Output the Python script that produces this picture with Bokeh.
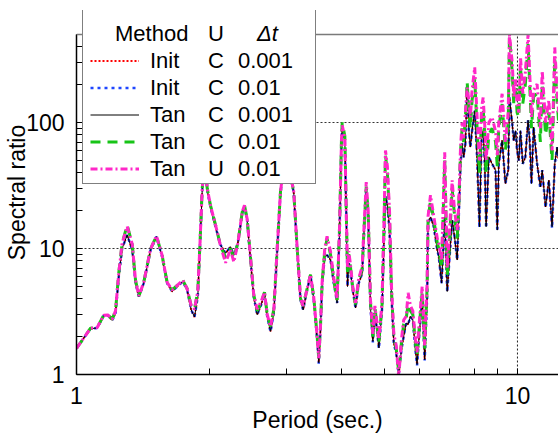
from bokeh.plotting import figure
from bokeh.models import (FixedTicker, PrintfTickFormatter, Legend, LegendItem,
                          Span, Range1d)
from bokeh.embed import file_html
from bokeh.resources import INLINE

FONT = "Liberation Sans"

# ---------------- data ----------------
period = [
    1.000, 1.039, 1.076, 1.114, 1.153, 1.178, 1.205, 1.226, 1.247, 1.269,
    1.303, 1.338, 1.361, 1.385, 1.421, 1.472, 1.518, 1.564, 1.605, 1.648,
    1.692, 1.742, 1.782, 1.820, 1.852, 1.884, 1.904, 1.928, 1.955, 1.979,
    2.013, 2.066, 2.121, 2.178, 2.234, 2.274, 2.322, 2.376, 2.404, 2.438,
    2.481, 2.523, 2.569, 2.623, 2.669, 2.707, 2.754, 2.802, 2.852, 2.901,
    2.950, 3.040, 3.110, 3.166, 3.221, 3.266, 3.335, 3.394, 3.452, 3.514,
    3.543, 3.575, 3.607, 3.656, 3.700, 3.767, 3.833, 3.900, 3.950, 3.990,
    4.005, 4.060, 4.090, 4.117, 4.145, 4.180, 4.230, 4.293, 4.366, 4.446,
    4.482, 4.540, 4.587, 4.640, 4.700, 4.750, 4.800, 4.850, 4.930, 4.976,
    5.020, 5.070, 5.127, 5.180, 5.243, 5.310, 5.380, 5.457, 5.520, 5.594,
    5.650, 5.720, 5.790, 5.870, 5.920, 6.000, 6.080, 6.160, 6.240, 6.270,
    6.350, 6.460, 6.580, 6.630, 6.730, 6.840, 6.930, 7.000, 7.110, 7.200,
    7.300, 7.360, 7.430, 7.490, 7.550, 7.620, 7.690, 7.760, 7.820, 7.890,
    8.000, 8.100, 8.200, 8.290, 8.360, 8.430, 8.490, 8.610, 8.760, 8.920,
    9.000, 9.070, 9.230, 9.390, 9.530, 9.590, 9.730, 9.810, 9.900, 9.980,
    10.07, 10.16, 10.28, 10.42, 10.57, 10.66, 10.76, 10.88, 11.08, 11.27,
    11.38, 11.58, 11.78, 11.98, 12.15, 12.30, 12.40,
]

tan_c_0001 = [
    1.61, 1.95, 2.31, 2.34, 2.93, 2.94, 2.69, 3.07, 5.98, 10.0,
    12.8, 9.7, 5.31, 4.16, 5.31, 9.7, 12.4, 8.6, 5.31, 4.56,
    4.99, 5.46, 4.7, 3.26, 2.86, 4.16, 9.7, 29, 48, 29,
    21.4, 14.9, 10.7, 9.16, 10.33, 8.88, 11.0, 19.0, 21.7, 16.8,
    8.11, 4.16, 2.98, 3.57, 4.42, 2.89, 2.20, 3.07, 9.7, 27.5,
    45, 42, 27.5, 9.7, 3.92, 3.26, 4.7, 6.17, 3.92, 1.89,
    1.24, 2.27, 5.31, 8.6, 8.9, 8.11, 5.31, 3.69, 14.0, 72,
    90, 72, 19, 4.99, 7.64, 6.76, 4.7, 3.37, 5.31, 6.37,
    12.4, 29, 17.8, 3.47, 1.83, 3.07, 2.27, 1.63, 3.26, 10.3,
    26, 22, 14.0, 4.16, 1.78, 1.48, 1.0, 1.58, 2.01, 2.56,
    2.5, 2.89, 2.72, 1.58, 1.2, 2.27, 3.92, 1.31, 4.16, 15.8,
    17.8, 14.9, 9.7, 8.6, 5.31, 17.8, 4.56, 7.64, 16.8, 12.4,
    8.1, 17.8, 47, 68, 53, 68, 202, 86, 63.8, 86,
    124, 53, 14.9, 72, 86, 47, 14.9, 53, 47, 41.8,
    14, 47, 72, 32.8, 41.8, 158, 97.6, 72, 86, 60,
    50, 86, 47, 53, 104, 72, 32.8, 91.7, 47, 30.8,
    41.8, 21.4, 34.8, 14.9, 47, 63.8, 50,
]

init_c_0001 = [
    1.61, 1.95, 2.31, 2.34, 2.93, 2.94, 2.69, 3.07, 5.98, 10.0,
    12.8, 9.7, 5.31, 4.16, 5.31, 9.7, 12.4, 8.6, 5.31, 4.56,
    4.99, 5.46, 4.7, 3.26, 2.86, 4.16, 9.7, 29, 48, 29,
    21.4, 14.9, 10.7, 9.16, 10.33, 8.88, 11.0, 19.0, 21.7, 16.8,
    8.11, 4.16, 2.98, 3.57, 4.42, 2.89, 2.20, 3.07, 9.7, 27.5,
    45, 42, 27.5, 9.7, 3.92, 3.26, 4.7, 6.17, 3.92, 1.89,
    1.24, 2.27, 5.31, 8.6, 8.9, 8.11, 5.31, 3.69, 14.0, 72,
    90, 72, 19, 4.99, 7.64, 6.76, 4.7, 3.37, 5.31, 6.37,
    12.4, 29, 17.8, 3.47, 1.83, 3.07, 2.27, 1.63, 3.26, 10.3,
    26, 22, 14.0, 4.16, 1.78, 1.48, 1.0, 1.58, 2.01, 2.56,
    2.5, 2.89, 2.72, 1.58, 1.2, 2.27, 3.92, 1.31, 4.16, 15.8,
    17.8, 14.9, 9.7, 8.6, 5.31, 17.8, 4.56, 7.64, 16.8, 12.4,
    8.1, 17.8, 47, 68, 53, 68, 202, 86, 63.8, 86,
    124, 53, 14.9, 72, 86, 47, 14.9, 53, 47, 41.8,
    14, 47, 72, 32.8, 41.8, 158, 97.6, 72, 86, 60,
    50, 86, 47, 53, 104, 72, 32.8, 91.7, 47, 30.8,
    41.8, 21.4, 34.8, 14.9, 47, 63.8, 50,
]

init_c_001 = [
    1.61, 1.95, 2.31, 2.34, 2.93, 2.94, 2.69, 3.07, 5.98, 10.0,
    12.8, 9.7, 5.31, 4.16, 5.31, 9.7, 12.4, 8.6, 5.31, 4.56,
    4.99, 5.46, 4.7, 3.26, 2.86, 4.16, 9.7, 29, 48, 29,
    21.4, 14.9, 10.7, 9.16, 10.33, 8.88, 11.0, 19.0, 21.7, 16.8,
    8.11, 4.16, 2.98, 3.57, 4.42, 2.89, 2.18, 3.07, 9.7, 27.5,
    45, 42, 27.5, 9.7, 3.92, 3.26, 4.7, 6.17, 3.92, 1.89,
    1.22, 2.27, 5.31, 8.6, 8.9, 8.11, 5.31, 3.69, 14.0, 72,
    90, 72, 19, 4.99, 7.64, 6.76, 4.7, 3.37, 5.31, 6.37,
    12.4, 29, 17.8, 3.47, 1.80, 3.07, 2.27, 1.60, 3.26, 10.3,
    26, 22, 14.0, 4.16, 1.76, 1.46, 1.0, 1.58, 2.01, 2.56,
    2.5, 2.89, 2.72, 1.56, 1.18, 2.27, 3.92, 1.29, 4.16, 15.8,
    17.8, 14.9, 9.7, 8.6, 5.31, 17.8, 4.5, 7.64, 16.8, 12.4,
    8.1, 17.8, 47, 68, 53, 68, 202, 86, 63.8, 86,
    124, 53, 14.5, 72, 86, 47, 14.5, 53, 47, 41.8,
    13.6, 47, 72, 32.8, 41.8, 158, 97.6, 72, 86, 60,
    50, 86, 47, 53, 104, 72, 32.0, 91.7, 47, 30.0,
    41.8, 21.0, 34.8, 14.5, 47, 63.8, 50,
]

tan_c_001 = [
    1.61, 1.95, 2.33, 2.36, 2.95, 2.97, 2.75, 3.2, 6.4, 11.0,
    15.3, 10.8, 5.6, 4.2, 5.4, 9.9, 12.6, 8.8, 5.4, 4.7,
    5.1, 5.6, 4.8, 3.5, 3.3, 4.6, 10.2, 30, 50, 30,
    22, 15.5, 10.5, 8.5, 10.0, 8.3, 11.0, 19.5, 22.0, 17.2,
    8.5, 4.3, 3.2, 3.7, 4.5, 3.0, 2.4, 3.3, 10.0, 28,
    46, 43, 28, 10.0, 4.0, 3.5, 4.8, 6.2, 4.1, 2.0,
    1.35, 2.4, 5.5, 9.5, 12.0, 9.0, 5.6, 3.9, 15, 75,
    100, 78, 20, 6.5, 9.0, 7.2, 4.9, 3.6, 5.6, 7.0,
    13, 31, 19, 3.8, 2.0, 3.4, 2.5, 1.8, 3.6, 13,
    55, 40, 18, 4.6, 2.0, 1.6, 1.05, 1.8, 2.5, 2.8,
    3.6, 3.2, 3.0, 1.8, 1.4, 2.6, 4.5, 1.6, 5.0, 17,
    24, 17, 11, 10, 7, 50, 6, 10, 30, 18,
    12, 22, 60, 90, 70, 110, 210, 120, 90, 150,
    220, 90, 40, 110, 130, 80, 40, 80, 90, 70,
    45, 90, 140, 60, 100, 480, 250, 140, 200, 120,
    110, 280, 140, 200, 420, 200, 90, 160, 170, 70,
    200, 80, 120, 50, 320, 150, 100,
]

tan_u_001 = [
    1.61, 1.95, 2.33, 2.36, 2.95, 2.97, 2.75, 3.2, 6.4, 11.0,
    15.0, 10.8, 5.6, 4.2, 5.4, 9.9, 12.6, 8.8, 5.4, 4.7,
    5.1, 5.6, 4.8, 3.5, 3.3, 4.6, 10.2, 30, 50, 30,
    22, 15.5, 10.5, 7.7, 9.8, 7.8, 11.0, 19.5, 22.0, 17.2,
    8.5, 4.3, 3.3, 3.8, 4.5, 3.0, 2.4, 3.3, 10.0, 28,
    46, 43, 28, 10.0, 4.0, 3.5, 4.8, 6.2, 4.1, 2.0,
    1.35, 2.4, 5.5, 10.0, 12.5, 9.5, 5.8, 4.0, 15, 74,
    95, 76, 20, 7.0, 9.5, 7.5, 5.0, 3.7, 5.8, 7.2,
    13.5, 33.7, 20, 4.0, 2.1, 3.5, 2.6, 1.9, 3.8, 14,
    60, 45, 20, 5.0, 2.1, 1.7, 0.95, 1.9, 2.7, 2.9,
    4.45, 3.5, 3.2, 1.9, 1.5, 2.8, 5.0, 1.7, 5.5, 18,
    26.5, 18, 12, 11, 8, 58, 7, 12, 34.8, 20,
    14, 22, 65, 100, 75, 120, 190, 150, 110, 180,
    274, 110, 50, 130, 158, 95, 50, 100, 110, 85,
    55, 100, 169, 70, 120, 500, 300, 160, 220, 140,
    120, 330, 170, 250, 500, 250, 110, 180, 202, 90,
    257, 100, 150, 60, 394, 180, 120,
]

series_methods = ["Init", "Init", "Tan", "Tan", "Tan"]
series_u = ["C", "C", "C", "C", "U"]
series_dt = ["0.001", "0.01", "0.001", "0.01", "0.01"]
header_texts = ["Method", "U", "\u0394t"]

x_major_ticks = [1, 10]
x_minor_ticks = [2, 3, 4, 5, 6, 7, 8, 9]
y_major_ticks = [1, 10, 100]
y_minor_ticks = [2, 3, 4, 5, 6, 7, 8, 9, 20, 30, 40, 50, 60, 70, 80, 90,
                 200, 300, 400, 500]
x_limits = (1, 12.39)
y_limits = (1, 500)      # axis extent
y_view_top = 774         # visible headroom above the axis (legend sits there)

# ---------------- figure ----------------
p = figure(width=558, height=435, x_axis_type="log", y_axis_type="log",
           x_range=Range1d(*x_limits), y_range=Range1d(y_limits[0], y_view_top),
           output_backend="svg", toolbar_location=None,
           min_border_left=76, min_border_right=0, min_border_top=10,
           min_border_bottom=60)
p.outline_line_color = None
p.background_fill_color = "white"
p.border_fill_color = "white"

p.xaxis.ticker = FixedTicker(ticks=x_major_ticks, minor_ticks=x_minor_ticks)
p.yaxis.ticker = FixedTicker(ticks=y_major_ticks, minor_ticks=y_minor_ticks)
p.yaxis.bounds = y_limits
p.xaxis.formatter = PrintfTickFormatter(format="%d")
p.yaxis.formatter = PrintfTickFormatter(format="%d")
p.xaxis.axis_label = "Period (sec.)"
p.yaxis.axis_label = "Spectral ratio"

for ax in (p.xaxis[0], p.yaxis[0]):
    ax.axis_line_color = "black"
    ax.axis_line_width = 1.5
    ax.major_tick_in = 6
    ax.major_tick_out = 0
    ax.minor_tick_in = 6
    ax.minor_tick_out = 0
    ax.major_tick_line_color = "black"
    ax.minor_tick_line_color = "black"
    ax.major_tick_line_width = 1
    ax.minor_tick_line_width = 1
    ax.major_label_text_font = FONT
    ax.major_label_text_font_size = "23px"
    ax.major_label_text_color = "black"
    ax.axis_label_text_font = FONT
    ax.axis_label_text_font_size = "23px"
    ax.axis_label_text_font_style = "normal"
    ax.axis_label_text_color = "black"

p.xaxis.major_label_standoff = 12
p.xaxis.axis_label_standoff = 0
p.yaxis.major_label_standoff = 12
p.yaxis.axis_label_standoff = -7

# grid: dotted lines at the major decades
p.xgrid.visible = False
p.ygrid.ticker = FixedTicker(ticks=y_major_ticks[1:])
p.ygrid.grid_line_color = "#333333"
p.ygrid.grid_line_dash = "2 2"
p.ygrid.grid_line_width = 1
xg = x_major_ticks[1:]
p.segment(x0=xg, y0=[y_limits[0]] * len(xg), x1=xg, y1=[y_limits[1]] * len(xg),
          line_color="#222222", line_dash="2 2", line_width=1)

p.add_layout(Span(location=y_limits[1], dimension="width",
                  line_color="#7a7a7a", line_width=1.5))

# ---------------- lines ----------------
r_red = p.line(period, init_c_0001, line_color="#ff0000", line_width=2,
               line_dash="2 2")
r_blue = p.line(period, init_c_001, line_color="#1e46ff", line_width=2.5,
                line_dash="3 4")
r_black = p.line(period, tan_c_0001, line_color="black", line_width=1)
r_green = p.line(period, tan_c_001, line_color="#17c417", line_width=3,
                 line_dash="10 7")
r_mag = p.line(period, tan_u_001, line_color="#ff28c8", line_width=3,
               line_dash="7 3 2 3")
dummy = p.line(x=[], y=[], line_alpha=0)

renderers = [r_red, r_blue, r_black, r_green, r_mag]

# ---------------- legend (box + aligned text columns) ----------------
NB = "\u00a0"
txt = dict(label_text_font=FONT, label_text_font_size="22px",
           label_text_color="black", padding=0, margin=0, spacing=0,
           border_line_color=None, background_fill_alpha=0.0)

# frame of the legend
leg_box = Legend(items=[LegendItem(label=NB, renderers=[dummy])],
                 location=(6, 190), glyph_width=0, glyph_height=173,
                 label_standoff=0, label_width=232, label_height=173,
                 padding=0, margin=0, label_text_font_size="1px",
                 border_line_color="black", border_line_width=1.5,
                 background_fill_color="white", background_fill_alpha=1.0)
p.add_layout(leg_box)

rows_y = 192
leg_main = Legend(
    items=[LegendItem(label=m, renderers=[r]) for m, r in zip(series_methods, renderers)],
    location=(14, rows_y), glyph_width=49, glyph_height=27, label_height=27,
    label_standoff=11, **txt)
leg_u = Legend(
    items=[LegendItem(label=u, renderers=[dummy]) for u in series_u],
    location=(132, rows_y), glyph_width=0, glyph_height=27, label_height=27,
    label_standoff=0, **txt)
leg_dt = Legend(
    items=[LegendItem(label=d, renderers=[dummy]) for d in series_dt],
    location=(162, rows_y), glyph_width=0, glyph_height=27, label_height=27,
    label_standoff=0, **txt)

head_y = 327
head_x = [39, 132, 181]
head_style = ["normal", "normal", "italic"]
heads = [Legend(items=[LegendItem(label=t, renderers=[dummy])],
                location=(hx, head_y), glyph_width=0, glyph_height=27,
                label_height=27, label_standoff=0,
                label_text_font_style=st, **txt)
         for t, hx, st in zip(header_texts, head_x, head_style)]

for lg in [leg_main, leg_u, leg_dt] + heads:
    p.add_layout(lg)

open("out.html", "w").write(file_html(p, INLINE))
